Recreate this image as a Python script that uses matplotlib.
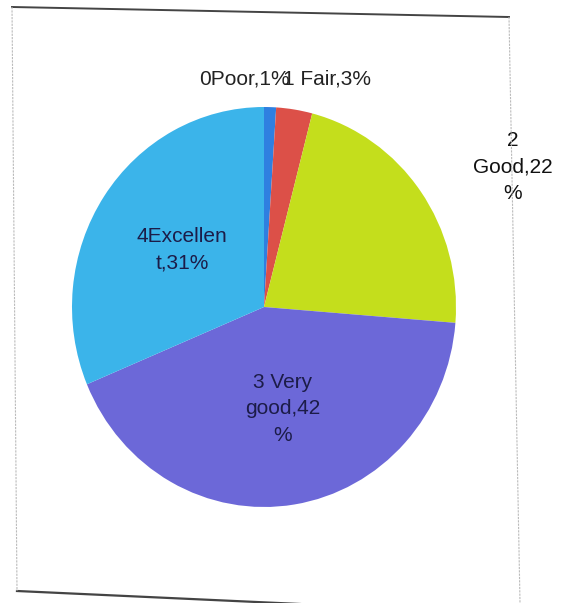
import matplotlib.pyplot as plt
from matplotlib.lines import Line2D

categories = ['0Poor', '1 Fair', '2\nGood', '3 Very\ngood', '4Excellen\nt']
values = [1, 3, 22, 42, 31]
label_texts = ['0Poor,1%', '1 Fair,3%', '2\nGood,22\n%', '3 Very\ngood,42\n%', '4Excellen\nt,31%']
colors = ['#2f7fe0', '#dc5048', '#c4de1c', '#6c68d8', '#3bb4ea']

W, H = 569, 603
fig = plt.figure(figsize=(W / 100, H / 100), dpi=100, facecolor='white')

# pie centre and radii in pixels (the photo squashes it a little)
cx, cy, rx, ry = 264, 307, 192, 200
ax = fig.add_axes([(cx - rx) / W, 1 - (cy + ry) / H, 2 * rx / W, 2 * ry / H])
ax.pie(values, colors=colors, startangle=90, counterclock=False,
       wedgeprops=dict(linewidth=0))
ax.set_aspect('auto')
ax.set_xlim(-1, 1)
ax.set_ylim(-1, 1)
ax.axis('off')


def px(x, y):
    return ((x - cx) / rx, (cy - y) / ry)


font = dict(family=['Liberation Sans', 'DejaVu Sans'], fontsize=15, linespacing=1.5)
inside = '#1c1c48'

x, y = px(290, 79)
ax.text(x, y, label_texts[0], ha='right', va='center', color='#222222', clip_on=False, **font)
x, y = px(283, 79)
ax.text(x, y, label_texts[1], ha='left', va='center', color='#222222', clip_on=False, **font)
x, y = px(513, 167)
ax.text(x, y, label_texts[2], ha='center', va='center', color='#111111', clip_on=False, **font)
x, y = px(283, 409)
ax.text(x, y, label_texts[3], ha='center', va='center', color=inside, clip_on=False, **font)
x, y = px(182, 250)
ax.text(x, y, label_texts[4], ha='center', va='center', color=inside, clip_on=False, **font)

# chart frame, slightly skewed like the photo
def fline(xs, ys, **kw):
    fig.add_artist(Line2D([v / W for v in xs], [1 - v / H for v in ys],
                          transform=fig.transFigure, **kw))


fline([12, 509], [7, 17], color='#444444', lw=1.4)
fline([17, 300], [591, 604], color='#444444', lw=1.6)
fline([12, 17], [7, 591], color='#bbbbbb', lw=0.8, ls=(0, (2, 1)))
fline([509, 520], [17, 603], color='#bbbbbb', lw=0.8, ls=(0, (2, 1)))

fig.savefig('out.png', dpi=100, facecolor='white')
